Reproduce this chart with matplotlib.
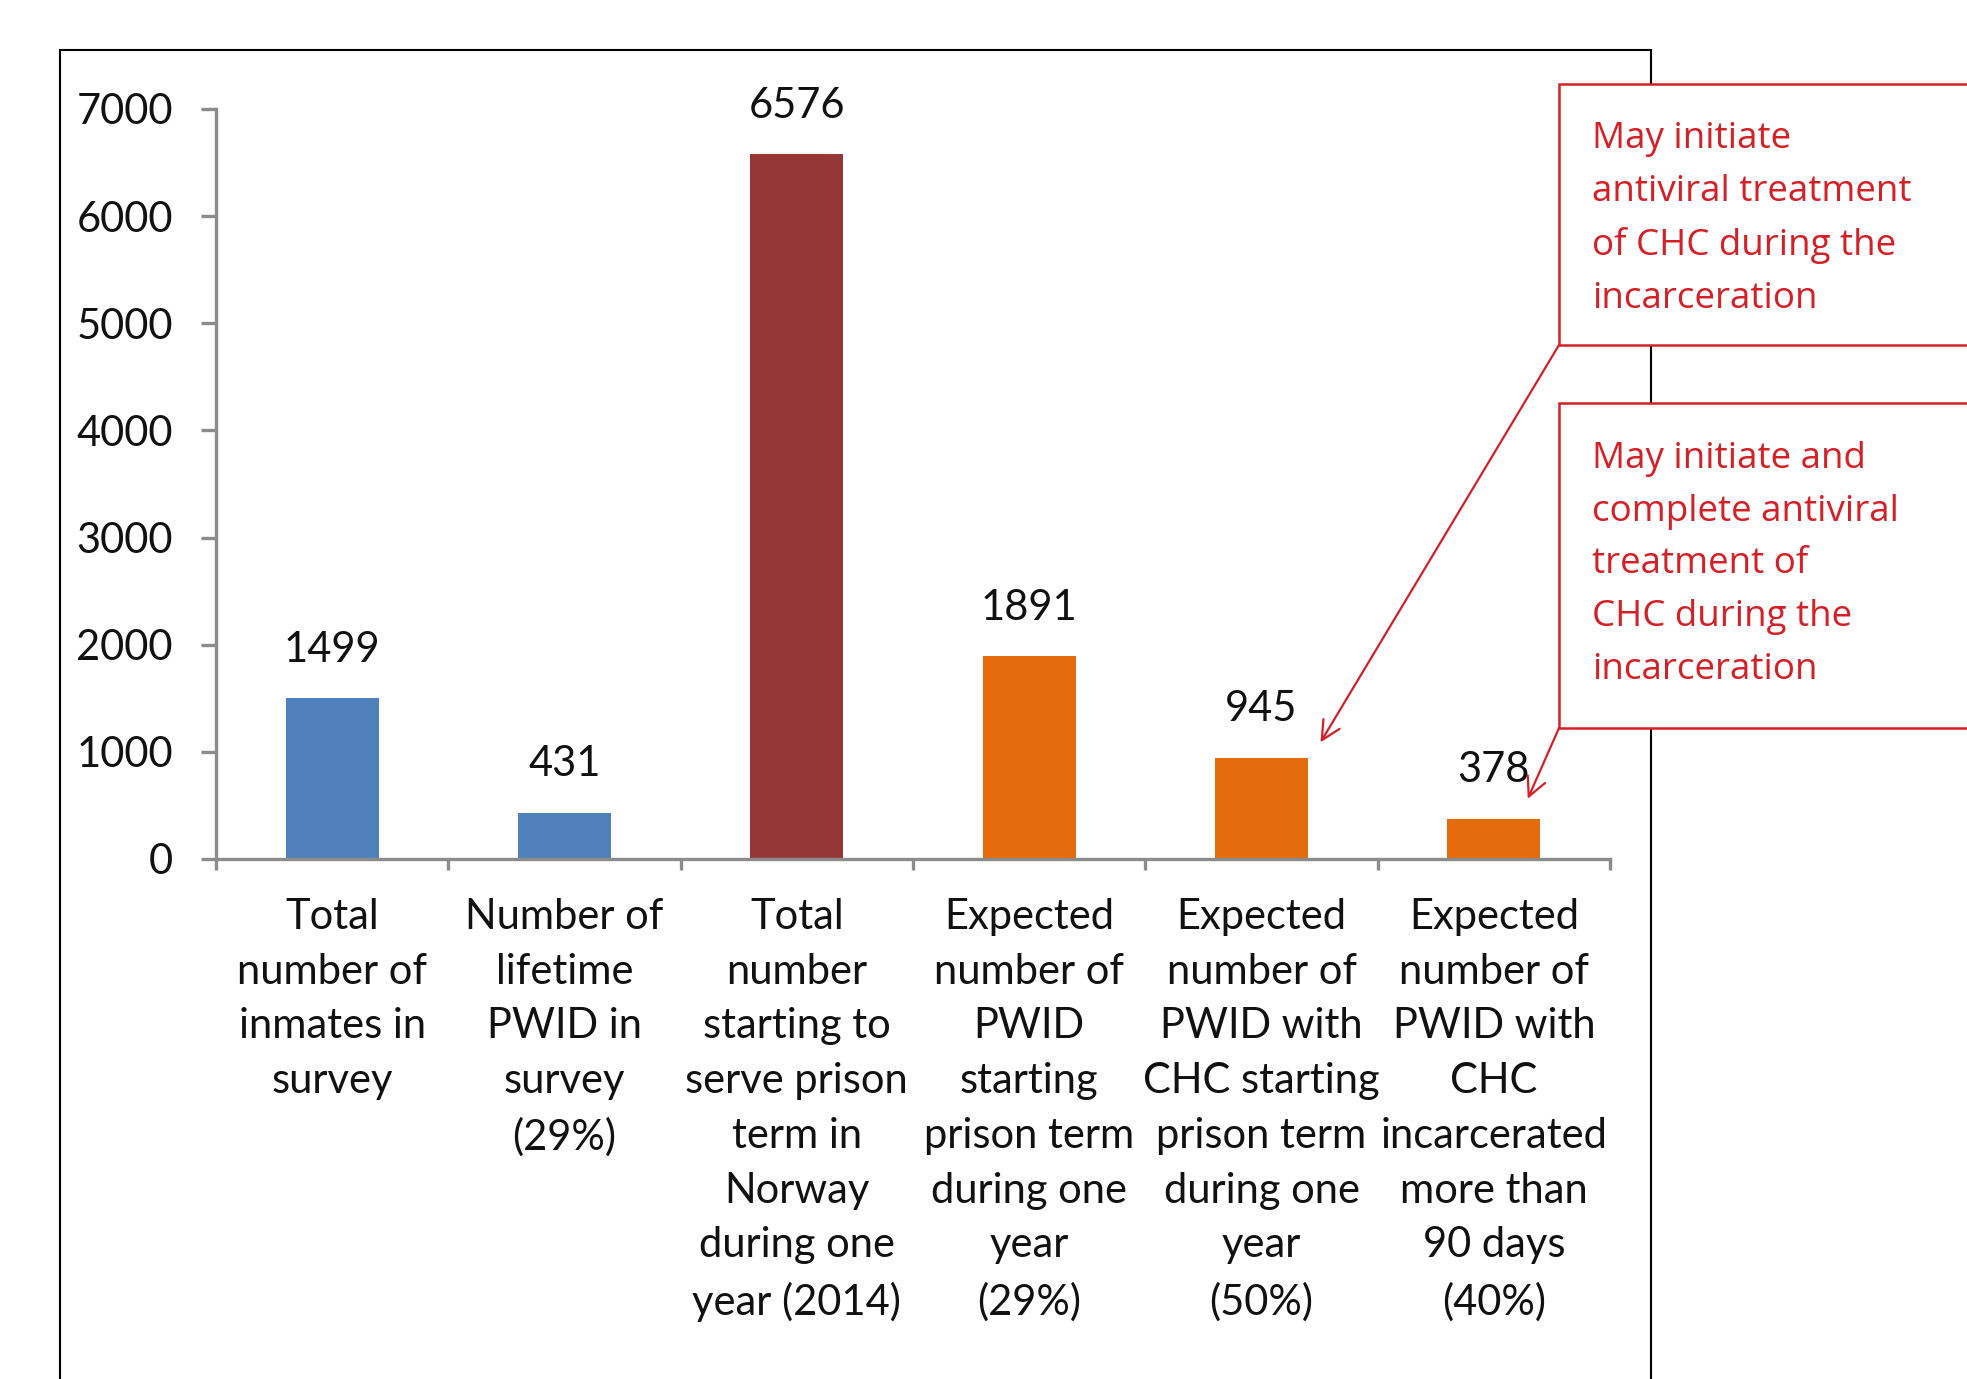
import matplotlib
matplotlib.use("Agg")
import matplotlib.pyplot as plt
from matplotlib.patches import Rectangle
import numpy as np

categories = [
    "Total\nnumber of\ninmates in\nsurvey",
    "Number of\nlifetime\nPWID in\nsurvey\n(29%)",
    "Total\nnumber\nstarting to\nserve prison\nterm in\nNorway\nduring one\nyear (2014)",
    "Expected\nnumber of\nPWID\nstarting\nprison term\nduring one\nyear\n(29%)",
    "Expected\nnumber of\nPWID with\nCHC starting\nprison term\nduring one\nyear\n(50%)",
    "Expected\nnumber of\nPWID with\nCHC\nincarcerated\nmore than\n90 days\n(40%)",
]
values = [1499, 431, 6576, 1891, 945, 378]
bar_colors = ["#4F81BD", "#4F81BD", "#953735", "#E46C0A", "#E46C0A", "#E46C0A"]
yticks = [0, 1000, 2000, 3000, 4000, 5000, 6000, 7000]
note1 = "May initiate\nantiviral treatment\nof CHC during the\nincarceration"
note2 = "May initiate and\ncomplete antiviral\ntreatment of\nCHC during the\nincarceration"

FONT = "Lato"
RED = "#D42027"
GRAY = "#8C8C8C"

W, H = 1967, 1379
fig = plt.figure(figsize=(W / 100, H / 100), dpi=100)
ax = fig.add_axes([216 / W, 1 - 859 / H, (1610 - 216) / W, (859 - 109) / H])

x = np.arange(len(values))
ax.bar(x, values, width=0.4, color=bar_colors, zorder=2)
ax.set_xlim(-0.5, len(values) - 0.5)
ax.set_ylim(0, 7000)

for xi, v in zip(x, values):
    ax.annotate(str(v), (xi, v), xytext=(0, 35), textcoords="offset points",
                ha="center", va="center", fontsize=30, family=FONT, color="#111111")

for s in ["top", "right"]:
    ax.spines[s].set_visible(False)
for s in ["left", "bottom"]:
    ax.spines[s].set_color(GRAY)
    ax.spines[s].set_linewidth(2.4)

ax.set_yticks(yticks)
ax.set_yticklabels([str(t) for t in yticks], fontsize=30, family=FONT, color="#111111")
ax.tick_params(axis="y", length=11, width=2.4, color=GRAY, pad=20)

ax.set_xticks(x)
ax.set_xticklabels(categories, fontsize=30, family=FONT, color="#111111", linespacing=1.54)
ax.tick_params(axis="x", which="major", length=0, pad=28)
ax.set_xticks(np.arange(len(values) + 1) - 0.5, minor=True)
ax.tick_params(axis="x", which="minor", length=8, width=2.4, color=GRAY, direction="out")

# outer frame
fig.add_artist(Rectangle((60 / W, -0.05), (1651 - 60) / W, 1 - 50 / H + 0.05,
                         transform=fig.transFigure, fill=False, edgecolor="black",
                         linewidth=1.5, clip_on=False))

# annotation boxes
b1 = (1559 / W, 1 - 345 / H, 0.3, (345 - 84) / H)
b2 = (1559 / W, 1 - 728 / H, 0.3, (728 - 403) / H)
for bx in (b1, b2):
    fig.add_artist(Rectangle((bx[0], bx[1]), bx[2], bx[3], transform=fig.transFigure,
                             facecolor="white", edgecolor=RED, linewidth=1.8, zorder=5,
                             clip_on=False))

fig.text(1592 / W, 1 - 121 / H, note1, fontsize=26.5, family="Open Sans", color=RED,
         va="top", ha="left", linespacing=1.62, zorder=6)
fig.text(1592 / W, 1 - 441 / H, note2, fontsize=26.5, family="Open Sans", color=RED,
         va="top", ha="left", linespacing=1.62, zorder=6)

# arrows
ax.annotate("", xy=(4.254, 1089), xycoords="data",
            xytext=(1559 / W, 1 - 345 / H), textcoords="figure fraction",
            arrowprops=dict(arrowstyle="->", color=RED, lw=1.6, mutation_scale=34,
                            shrinkA=0, shrinkB=0), annotation_clip=False)
ax.annotate("", xy=(5.146, 562), xycoords="data",
            xytext=(1559 / W, 1 - 728 / H), textcoords="figure fraction",
            arrowprops=dict(arrowstyle="->", color=RED, lw=1.6, mutation_scale=34,
                            shrinkA=0, shrinkB=0), annotation_clip=False)

fig.savefig("out.png", dpi=100)
